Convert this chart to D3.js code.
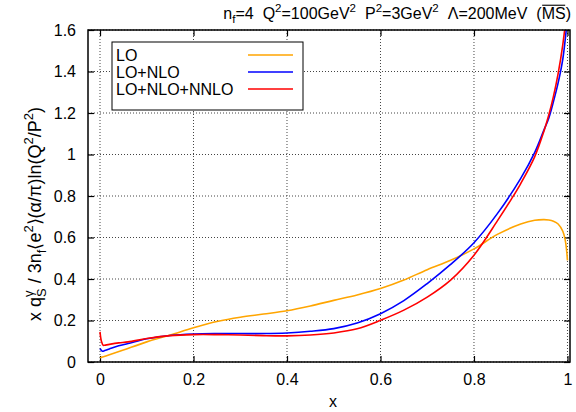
<!DOCTYPE html>
<html><head><meta charset="utf-8">
<script src="https://cdn.jsdelivr.net/npm/d3@7"></script>
<style>body{margin:0;background:#fff}svg{display:block}text{font-family:"Liberation Sans",Arial,sans-serif;fill:#000}</style>
</head><body><svg id="c" width="576" height="412"></svg>
<script>
const xTicks=[0,0.2,0.4,0.6,0.8,1];
const xTickLabels=["0","0.2","0.4","0.6","0.8","1"];
const yTicks=[0,0.2,0.4,0.6,0.8,1,1.2,1.4,1.6];
const yTickLabels=["0","0.2","0.4","0.6","0.8","1","1.2","1.4","1.6"];

const xLO=[0,0.02,0.05,0.1,0.15,0.2,0.25,0.3,0.35,0.4,0.45,0.5,0.55,0.6,0.65,0.7,0.75,0.8,0.85,0.9,0.93,0.95,0.96,0.97,0.98,0.99,0.995,0.998,1.0];
const loVals=[0.02,0.035,0.058,0.097,0.13,0.165,0.195,0.216,0.231,0.247,0.27,0.297,0.323,0.354,0.395,0.445,0.49,0.545,0.615,0.665,0.683,0.686,0.684,0.678,0.665,0.63,0.59,0.54,0.49];

const xNLO=[0,0.005,0.01,0.02,0.04,0.06,0.1,0.15,0.2,0.25,0.3,0.35,0.4,0.45,0.5,0.55,0.6,0.65,0.7,0.75,0.8,0.85,0.9,0.93,0.95,0.96,0.97,0.98,0.99,1.0];
const nloVals=[0.065,0.052,0.055,0.063,0.078,0.089,0.112,0.128,0.135,0.137,0.137,0.137,0.14,0.148,0.161,0.188,0.233,0.296,0.378,0.47,0.575,0.715,0.885,1.01,1.12,1.175,1.255,1.345,1.46,1.66];

const xNNLO=[0,0.003,0.007,0.01,0.02,0.04,0.06,0.1,0.15,0.2,0.25,0.3,0.35,0.4,0.45,0.5,0.55,0.6,0.65,0.7,0.75,0.8,0.85,0.88,0.9,0.93,0.95,0.96,0.97,0.98,0.99,1.0];
const nnloVals=[0.145,0.1,0.08,0.081,0.085,0.092,0.097,0.113,0.127,0.132,0.132,0.13,0.127,0.126,0.13,0.14,0.16,0.201,0.25,0.313,0.395,0.515,0.68,0.785,0.86,0.99,1.115,1.19,1.28,1.39,1.53,1.72];

const seriesNames=["LO","LO+NLO","LO+NLO+NNLO"];
const seriesColors=["#ffa500","#0000ff","#ff0000"];
const seriesX=[xLO,xNLO,xNNLO];
const seriesY=[loVals,nloVals,nnloVals];

const svg=d3.select("#c");
const L=88,R=570,T=30,B=362;
const x=d3.scaleLinear().domain([-0.0257,1.0054]).range([L,R]);
const y=d3.scaleLinear().domain([0,1.6]).range([B,T]);

// grid
const g=svg.append("g");
g.selectAll(".gx").data(xTicks).join("line")
 .attr("x1",d=>x(d)).attr("x2",d=>x(d)).attr("y1",T).attr("y2",B)
 .attr("stroke","#444").attr("stroke-width",1).attr("stroke-dasharray","1,2");
g.selectAll(".gy").data(yTicks).join("line")
 .attr("y1",d=>y(d)).attr("y2",d=>y(d)).attr("x1",L).attr("x2",R)
 .attr("stroke","#444").attr("stroke-width",1).attr("stroke-dasharray","1,2");

// axes (ticks inward, mirrored)
const tk=6;
const ax=svg.append("g").attr("transform",`translate(0,${B})`)
 .call(d3.axisBottom(x).tickValues(xTicks).tickSizeInner(-tk).tickSizeOuter(0).tickPadding(12).tickFormat((d,i)=>xTickLabels[i]));
const axT=svg.append("g").attr("transform",`translate(0,${T})`)
 .call(d3.axisTop(x).tickValues(xTicks).tickSizeInner(-tk).tickSizeOuter(0).tickFormat(""));
const ay=svg.append("g").attr("transform",`translate(${L},0)`)
 .call(d3.axisLeft(y).tickValues(yTicks).tickSizeInner(-tk).tickSizeOuter(0).tickPadding(12).tickFormat((d,i)=>yTickLabels[i]));
const ayR=svg.append("g").attr("transform",`translate(${R},0)`)
 .call(d3.axisRight(y).tickValues(yTicks).tickSizeInner(-tk).tickSizeOuter(0).tickFormat(""));
[ax,axT,ay,ayR].forEach(a=>{a.select(".domain").remove();a.selectAll(".tick line").attr("stroke","#000").attr("stroke-width",1.2);
 a.selectAll("text").attr("font-family","Liberation Sans, Arial, sans-serif").attr("font-size",16).attr("fill","#000");});

// curves
svg.append("clipPath").attr("id","clip").append("rect").attr("x",L).attr("y",T).attr("width",R-L).attr("height",B-T);
const line=d3.line().curve(d3.curveCatmullRom.alpha(0.5));
const cg=svg.append("g").attr("clip-path","url(#clip)");
seriesNames.forEach((n,i)=>{
  const pts=seriesX[i].map((v,j)=>[x(v),y(seriesY[i][j])]);
  cg.append("path").attr("d",line(pts)).attr("fill","none").attr("stroke",seriesColors[i]).attr("stroke-width",1.6);
});

// frame
svg.append("rect").attr("x",L).attr("y",T).attr("width",R-L).attr("height",B-T).attr("fill","none").attr("stroke","#000").attr("stroke-width",1.5);

// legend
const lg=svg.append("g");
lg.append("rect").attr("x",112).attr("y",42).attr("width",191).attr("height",68).attr("fill","#fff").attr("stroke","#000").attr("stroke-width",1);
seriesNames.forEach((n,i)=>{
  const yy=55+i*17;
  lg.append("text").attr("x",116).attr("y",yy+6).attr("font-size",16).text(n);
  lg.append("line").attr("x1",248).attr("x2",293).attr("y1",yy).attr("y2",yy).attr("stroke",seriesColors[i]).attr("stroke-width",1.6);
});

// rich text helper
function rich(parent,segs,size){
  const grp=parent.append("g");
  let cx=0;
  const small=size*0.72;
  const mk=(t,xx,dy,fs)=>{const e=grp.append("text").attr("x",xx).attr("y",dy).attr("font-size",fs).style("white-space","pre").text(t);return e.node().getComputedTextLength();};
  segs.forEach(s=>{
    if(typeof s==="number"){cx+=s;return;}
    const [t,k]=s;
    if(k==="n"){const w=mk(t,cx,0,size);cx+=w;}
    else if(k==="sup"){const w=mk(t,cx,-size*0.42,small);cx+=w;}
    else if(k==="sub"){const w=mk(t,cx,size*0.25,small);cx+=w;}
    else if(k==="stack"){const w1=mk(t[0],cx,-size*0.42,small);const w2=mk(t[1],cx,size*0.28,small);cx+=Math.max(w1,w2);}
    else if(k==="over"){const w=mk(t,cx,0,size);grp.append("line").attr("x1",cx+0.5).attr("x2",cx+w-0.5).attr("y1",-size*0.86).attr("y2",-size*0.86).attr("stroke","#000").attr("stroke-width",1.1);cx+=w;}
  });
  return {grp,width:cx};
}

// title
const ti=rich(svg,[["n","n"],["f","sub"],["=4","n"],9,["Q","n"],["2","sup"],["=100GeV","n"],["2","sup"],9,["P","n"],["2","sup"],["=3GeV","n"],["2","sup"],9,["Λ=200MeV","n"],9,["(","n"],["MS","over"],[")","n"]],16);
ti.grp.attr("transform",`translate(${571-ti.width},19)`);

// y label
const yl=rich(svg,[["x q","n"],[["γ","S"],"stack"],[" / 3n","n"],["f","sub"],["⟨e","n"],["2","sup"],["⟩(α/π)ln(Q","n"],["2","sup"],["/P","n"],["2","sup"],[")","n"]],18);
yl.grp.attr("transform",`translate(41,${214+yl.width/2}) rotate(-90)`);

// x label
svg.append("text").attr("x",333).attr("y",407).attr("text-anchor","middle").attr("font-size",16).text("x");
</script></body></html>
